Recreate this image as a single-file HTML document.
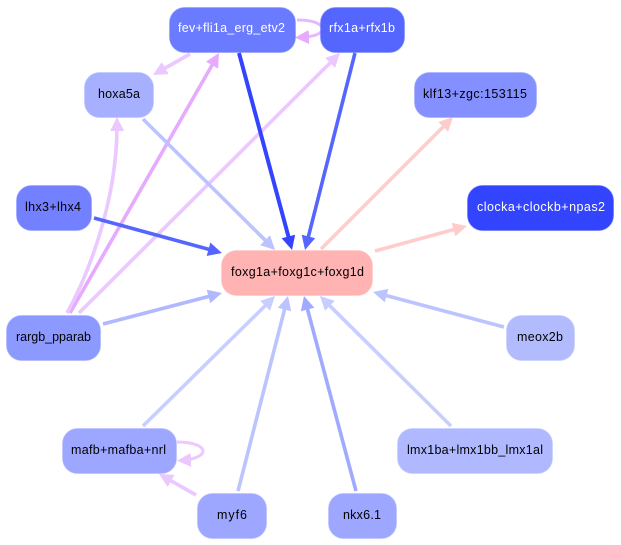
<!DOCTYPE html>
<html>
<head>
<meta charset="utf-8">
<style>
html,body{margin:0;padding:0;background:#fff;width:621px;height:545px;overflow:hidden}
svg{display:block}
text{font-family:"Liberation Sans",sans-serif;font-size:12.5px;text-anchor:start}
.n{stroke-width:1;stroke-opacity:.45}
path.e{fill:none;stroke-width:3.6}
</style>
</head>
<body>
<svg width="621" height="545" viewBox="0 0 621 545" xmlns="http://www.w3.org/2000/svg">
<defs>
<marker id="m1" markerUnits="userSpaceOnUse" markerWidth="15" markerHeight="14" refX="10" refY="7" orient="auto"><polygon points="0,0 14,7 0,14" fill="#3344ff"/></marker>
<marker id="m2" markerUnits="userSpaceOnUse" markerWidth="15" markerHeight="14" refX="10" refY="7" orient="auto"><polygon points="0,0 14,7 0,14" fill="#5566ff"/></marker>
<marker id="m3" markerUnits="userSpaceOnUse" markerWidth="15" markerHeight="14" refX="10" refY="7" orient="auto"><polygon points="0,0 14,7 0,14" fill="#bcc4ff"/></marker>
<marker id="m4" markerUnits="userSpaceOnUse" markerWidth="15" markerHeight="14" refX="10" refY="7" orient="auto"><polygon points="0,0 14,7 0,14" fill="#b0b9ff"/></marker>
<marker id="m5" markerUnits="userSpaceOnUse" markerWidth="15" markerHeight="14" refX="10" refY="7" orient="auto"><polygon points="0,0 14,7 0,14" fill="#c8ceff"/></marker>
<marker id="m6" markerUnits="userSpaceOnUse" markerWidth="15" markerHeight="14" refX="10" refY="7" orient="auto"><polygon points="0,0 14,7 0,14" fill="#a0aaff"/></marker>
<marker id="m7" markerUnits="userSpaceOnUse" markerWidth="15" markerHeight="14" refX="10" refY="7" orient="auto"><polygon points="0,0 14,7 0,14" fill="#ffcccc"/></marker>
<marker id="m8" markerUnits="userSpaceOnUse" markerWidth="15" markerHeight="14" refX="10" refY="7" orient="auto"><polygon points="0,0 14,7 0,14" fill="#ebc8ff"/></marker>
<marker id="m9" markerUnits="userSpaceOnUse" markerWidth="15" markerHeight="14" refX="10" refY="7" orient="auto"><polygon points="0,0 14,7 0,14" fill="#e6aaff"/></marker>
</defs>

<!-- edges -->
<path class="e" d="M70,313 L217,56.5" stroke="#e6aaff" marker-end="url(#m9)"/>
<path class="e" d="M67,313 C88,275 118,200 117,121" stroke="#ebc8ff" marker-end="url(#m8)"/>
<path class="e" d="M79,313 L337.2,55.8" stroke="#ebc8ff" marker-end="url(#m8)"/>
<path class="e" d="M190,54 L156.5,73" stroke="#ebc8ff" marker-end="url(#m8)"/>
<path class="e" style="stroke-width:3" d="M297,20 C316,20 323,25 322,30 C321,35 310,37 299,37.5" stroke="#e6b8ff" marker-end="url(#m9)"/>
<path class="e" style="stroke-width:3" d="M177,442 C195,442 203,447 203,451 C203,456 192,460 181,460.5" stroke="#ebc8ff" marker-end="url(#m8)"/>
<path class="e" d="M196,495 L162.5,476" stroke="#ebc8ff" marker-end="url(#m8)"/>
<path class="e" d="M143,119 L272.2,247.2" stroke="#bcc4ff" marker-end="url(#m3)"/>
<path class="e" d="M94,218 L218.1,251.9" stroke="#5566ff" marker-end="url(#m2)"/>
<path class="e" d="M103,324 L218.1,294" stroke="#b0b9ff" marker-end="url(#m4)"/>
<path class="e" d="M143,426 L272.2,298.8" stroke="#c8ceff" marker-end="url(#m5)"/>
<path class="e" d="M238,491 L287,299.9" stroke="#bcc4ff" marker-end="url(#m3)"/>
<path class="e" d="M356,491 L305,299.9" stroke="#a0aaff" marker-end="url(#m6)"/>
<path class="e" d="M451,426 L322.8,298.8" stroke="#c8ceff" marker-end="url(#m5)"/>
<path class="e" d="M504,327 L376.9,293" stroke="#bcc4ff" marker-end="url(#m3)"/>
<path class="e" d="M321,249 L450.2,119.8" stroke="#ffcccc" marker-end="url(#m7)"/>
<path class="e" d="M375,251 L463.1,227" stroke="#ffcccc" marker-end="url(#m7)"/>
<path class="e" d="M239,53 L291,246.1" stroke="#3344ff" style="stroke-width:4" marker-end="url(#m1)"/>
<path class="e" d="M355,53 L306,246.1" stroke="#5566ff" marker-end="url(#m2)"/>

<!-- nodes -->
<rect class="n" x="169.5" y="7.5" width="126" height="45" rx="15" fill="#6b7bff" stroke="#8a96ff"/>
<text x="178" y="32" textLength="107" lengthAdjust="spacing" fill="#fff">fev+fli1a_erg_etv2</text>

<rect class="n" x="320.5" y="7.5" width="84" height="45" rx="15" fill="#5566ff" stroke="#7380ff"/>
<text x="329" y="32" textLength="66" lengthAdjust="spacing" fill="#fff">rfx1a+rfx1b</text>

<rect class="n" x="84.5" y="72.5" width="69" height="45" rx="15" fill="#a6b0ff" stroke="#b8c0ff"/>
<text x="98" y="98" textLength="42" lengthAdjust="spacing" fill="#000">hoxa5a</text>

<rect class="n" x="414.5" y="72.5" width="122" height="45" rx="15" fill="#8490ff" stroke="#9ca6ff"/>
<text x="423" y="98" textLength="104" lengthAdjust="spacing" fill="#000">klf13+zgc:153115</text>

<rect class="n" x="16.5" y="185.5" width="75" height="45" rx="15" fill="#7380ff" stroke="#8c98ff"/>
<text x="25" y="211" textLength="56" lengthAdjust="spacing" fill="#000">lhx3+lhx4</text>

<rect class="n" x="467.5" y="185.5" width="146" height="45" rx="15" fill="#3344ff" stroke="#5566ff"/>
<text x="477" y="211" textLength="128" lengthAdjust="spacing" fill="#fff">clocka+clockb+npas2</text>

<rect class="n" x="221.5" y="250.5" width="151" height="45" rx="15" fill="#ffb3b3" stroke="#ffc6c6"/>
<text x="231" y="276" textLength="133" lengthAdjust="spacing" fill="#000">foxg1a+foxg1c+foxg1d</text>

<rect class="n" x="6.5" y="315.5" width="94" height="45" rx="15" fill="#8c99ff" stroke="#a4aeff"/>
<text x="16" y="341" textLength="75" lengthAdjust="spacing" fill="#000">rargb_pparab</text>

<rect class="n" x="506.5" y="315.5" width="68" height="45" rx="15" fill="#b3bbff" stroke="#c4caff"/>
<text x="517" y="341" textLength="46" lengthAdjust="spacing" fill="#000">meox2b</text>

<rect class="n" x="62.5" y="428.5" width="114" height="45" rx="15" fill="#9da7ff" stroke="#b2baff"/>
<text x="71" y="454" textLength="95" lengthAdjust="spacing" fill="#000">mafb+mafba+nrl</text>

<rect class="n" x="397.5" y="428.5" width="155" height="45" rx="15" fill="#b0b9ff" stroke="#c2c9ff"/>
<text x="407" y="454" textLength="136" lengthAdjust="spacing" fill="#000">lmx1ba+lmx1bb_lmx1al</text>

<rect class="n" x="197.5" y="493.5" width="69" height="45" rx="15" fill="#9da7ff" stroke="#b2baff"/>
<text x="217" y="519" textLength="30" lengthAdjust="spacing" fill="#000">myf6</text>

<rect class="n" x="328.5" y="493.5" width="68" height="45" rx="15" fill="#9da7ff" stroke="#b2baff"/>
<text x="343" y="519" textLength="38" lengthAdjust="spacing" fill="#000">nkx6.1</text>
</svg>
</body>
</html>
